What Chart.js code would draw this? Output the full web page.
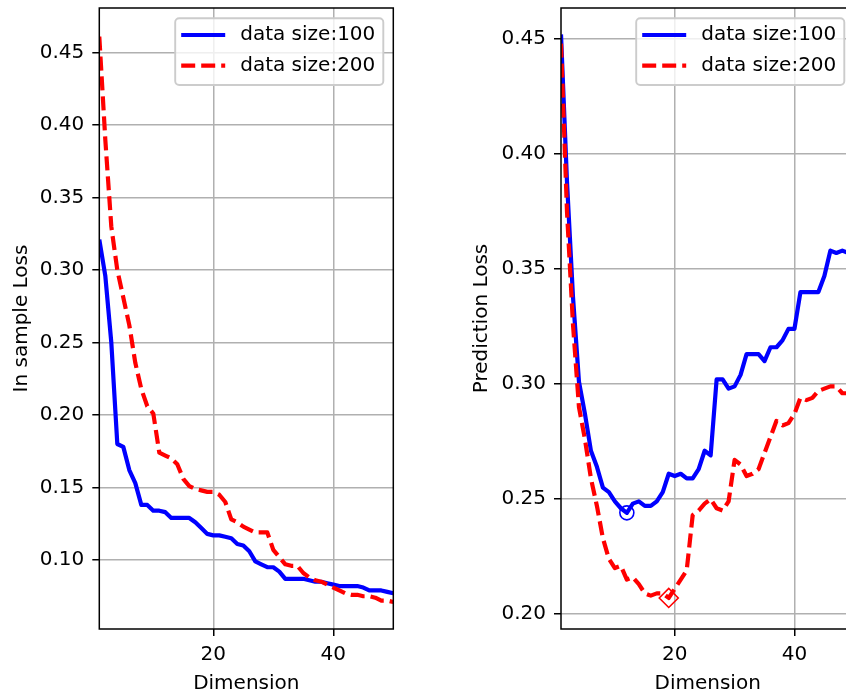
<!DOCTYPE html>
<html>
<head>
<meta charset="utf-8">
<script src="https://cdn.jsdelivr.net/npm/chart.js@4.4.1/dist/chart.umd.min.js"></script>
<style>
  html, body { margin: 0; padding: 0; background: #fff; overflow: hidden; }
  #wrap { position: relative; width: 846px; height: 696px; overflow: hidden; }
  canvas { position: absolute; top: 0; }
  #inSample { left: 0; }
  #prediction { left: 450px; }
</style>
</head>
<body>
<div id="wrap">
  <canvas id="inSample" width="410" height="696"></canvas>
  <canvas id="prediction" width="410" height="696"></canvas>
</div>
<script>
const dimensions = [1, 2, 3, 4, 5, 6, 7, 8, 9, 10, 11, 12, 13, 14, 15, 16, 17, 18, 19, 20,
  21, 22, 23, 24, 25, 26, 27, 28, 29, 30, 31, 32, 33, 34, 35, 36, 37, 38, 39, 40,
  41, 42, 43, 44, 45, 46, 47, 48, 49, 50];

const inSample100 = [0.321, 0.296, 0.250, 0.180, 0.178, 0.162, 0.153, 0.138, 0.138, 0.134,
  0.134, 0.133, 0.129, 0.129, 0.129, 0.129, 0.126, 0.122, 0.118, 0.117,
  0.117, 0.116, 0.115, 0.111, 0.110, 0.106, 0.099, 0.097, 0.095, 0.095,
  0.092, 0.087, 0.087, 0.087, 0.087, 0.086, 0.085, 0.085, 0.084, 0.083,
  0.082, 0.082, 0.082, 0.082, 0.081, 0.079, 0.079, 0.079, 0.078, 0.077];

const inSample200 = [0.461, 0.390, 0.330, 0.300, 0.281, 0.262, 0.236, 0.218, 0.206, 0.201,
  0.174, 0.172, 0.170, 0.166, 0.156, 0.151, 0.149, 0.148, 0.147, 0.147,
  0.145, 0.140, 0.128, 0.126, 0.123, 0.121, 0.119, 0.119, 0.119, 0.107,
  0.102, 0.097, 0.096, 0.096, 0.091, 0.088, 0.086, 0.085, 0.083, 0.081,
  0.079, 0.077, 0.076, 0.076, 0.075, 0.075, 0.074, 0.072, 0.072, 0.071];

const prediction100 = [0.452, 0.388, 0.338, 0.301, 0.287, 0.271, 0.264, 0.255, 0.253, 0.249,
  0.246, 0.244, 0.248, 0.249, 0.247, 0.247, 0.249, 0.253, 0.261, 0.260,
  0.261, 0.259, 0.259, 0.263, 0.271, 0.269, 0.302, 0.302, 0.298, 0.299,
  0.304, 0.313, 0.313, 0.313, 0.310, 0.316, 0.316, 0.319, 0.324, 0.324,
  0.340, 0.340, 0.340, 0.340, 0.347, 0.358, 0.357, 0.358, 0.357, 0.357];

const prediction200 = [0.448, 0.375, 0.326, 0.290, 0.276, 0.259, 0.247, 0.233, 0.224, 0.220,
  0.221, 0.215, 0.216, 0.213, 0.209, 0.208, 0.209, 0.209, 0.207, 0.211,
  0.215, 0.219, 0.243, 0.245, 0.248, 0.250, 0.246, 0.245, 0.249, 0.267,
  0.265, 0.260, 0.261, 0.263, 0.270, 0.277, 0.284, 0.282, 0.283, 0.287,
  0.294, 0.293, 0.294, 0.297, 0.298, 0.299, 0.299, 0.296, 0.296, 0.296];

// best dimension marked on the prediction plot
const bestDim100 = 12;
const bestDim200 = 19;

const xTicks = [20, 40];
const inSampleTicks = [0.10, 0.15, 0.20, 0.25, 0.30, 0.35, 0.40, 0.45];
const predictionTicks = [0.20, 0.25, 0.30, 0.35, 0.40, 0.45];

const FONT = { family: 'DejaVu Sans', size: 20 };
const BLUE = '#0000ff';
const RED = '#ff0000';
const LINE_W = 4.2;

const toPoints = (values) => dimensions.map((d, i) => ({ x: d, y: values[i] }));

const frameAndLegend = {
  id: 'frameAndLegend',
  afterDatasetsDraw(chart) {
    const { ctx, chartArea: a } = chart;
    ctx.save();
    ctx.strokeStyle = '#000';
    ctx.lineWidth = 1.5;
    ctx.strokeRect(a.left, a.top, a.right - a.left, a.bottom - a.top);
    ctx.restore();
  },
  afterDraw(chart) {
    const { ctx, chartArea: a } = chart;
    const entries = chart.data.datasets.filter((ds) => ds.label);
    ctx.save();
    ctx.font = `${FONT.size}px "${FONT.family}"`;
    const textW = Math.max(...entries.map((e) => ctx.measureText(e.label).width));
    const w = 65 + textW + 8;
    const h = 66.7;
    const x = a.right - 10 - w;
    const y = a.top + 10.3;
    ctx.beginPath();
    ctx.roundRect(x, y, w, h, 4);
    ctx.fillStyle = 'rgba(255,255,255,0.8)';
    ctx.fill();
    ctx.strokeStyle = '#cccccc';
    ctx.lineWidth = 1.9;
    ctx.stroke();
    entries.forEach((e, i) => {
      const cy = y + 16.7 + i * 30.7;
      ctx.beginPath();
      ctx.setLineDash(e.borderDash || []);
      ctx.strokeStyle = e.borderColor;
      ctx.lineWidth = e.borderWidth;
      ctx.moveTo(x + 6, cy);
      ctx.lineTo(x + 50, cy);
      ctx.stroke();
      ctx.setLineDash([]);
      ctx.fillStyle = '#000';
      ctx.textBaseline = 'middle';
      ctx.textAlign = 'left';
      ctx.fillText(e.label, x + 65, cy);
    });
    ctx.restore();
  }
};

function lossChart(canvasId, cfg) {
  const datasets = [
    {
      label: 'data size:100',
      data: toPoints(cfg.series100),
      borderColor: BLUE,
      borderWidth: LINE_W,
      pointRadius: 0,
      order: 2
    },
    {
      label: 'data size:200',
      data: toPoints(cfg.series200),
      borderColor: RED,
      borderWidth: LINE_W,
      borderDash: [14, 6],
      pointRadius: 0,
      order: 1
    },
    ...(cfg.markers || [])
  ];

  return new Chart(document.getElementById(canvasId), {
    type: 'line',
    plugins: [frameAndLegend],
    data: { datasets },
    options: {
      responsive: false,
      animation: false,
      layout: { autoPadding: false, padding: { top: 8, right: cfg.padRight, left: 0, bottom: 0 } },
      elements: { line: { tension: 0, borderJoinStyle: 'round', fill: false } },
      plugins: { legend: { display: false }, tooltip: { enabled: false } },
      scales: {
        x: {
          type: 'linear',
          min: 1,
          max: 50,
          afterBuildTicks: (s) => { s.ticks = xTicks.map((value) => ({ value })); },
          afterFit: (s) => { s.height = 67; s.paddingLeft = 0; s.paddingRight = 0; },
          ticks: { font: FONT, color: '#000', padding: 7, maxRotation: 0 },
          grid: { color: '#b0b0b0', lineWidth: 1.5, tickColor: '#000', tickLength: 7, tickWidth: 1.5 },
          border: { display: false },
          title: { display: true, text: 'Dimension', font: FONT, color: '#000', padding: { top: 0, bottom: 0 } }
        },
        y: {
          min: cfg.yMin,
          max: cfg.yMax,
          afterBuildTicks: (s) => { s.ticks = cfg.yTicks.map((value) => ({ value })); },
          afterFit: (s) => { s.width = cfg.yWidth; s.paddingTop = 0; s.paddingBottom = 0; },
          ticks: { font: FONT, color: '#000', padding: 8, callback: (v) => v.toFixed(2) },
          grid: { color: '#b0b0b0', lineWidth: 1.5, tickColor: '#000', tickLength: 7, tickWidth: 1.5 },
          border: { display: false },
          title: { display: true, text: cfg.yTitle, font: FONT, color: '#000', padding: { top: cfg.titlePad, bottom: 0 } }
        }
      }
    }
  });
}

lossChart('inSample', {
  series100: inSample100,
  series200: inSample200,
  yMin: 0.0524,
  yMax: 0.4807,
  yTicks: inSampleTicks,
  yTitle: 'In sample Loss',
  yWidth: 99.3,
  padRight: 16.7,
  titlePad: 10
});

lossChart('prediction', {
  series100: prediction100,
  series200: prediction200,
  yMin: 0.1935,
  yMax: 0.4635,
  yTicks: predictionTicks,
  yTitle: 'Prediction Loss',
  yWidth: 111,
  padRight: 5.7,
  titlePad: 19.6,
  markers: [
    {
      data: [{ x: bestDim100, y: prediction100[dimensions.indexOf(bestDim100)] }],
      showLine: false,
      pointStyle: 'circle',
      pointRadius: 7,
      pointBorderWidth: 1.6,
      pointBorderColor: BLUE,
      pointBackgroundColor: 'rgba(0,0,0,0)',
      order: 0
    },
    {
      data: [{ x: bestDim200, y: prediction200[dimensions.indexOf(bestDim200)] }],
      showLine: false,
      pointStyle: 'rectRot',
      pointRadius: 9.5,
      pointBorderWidth: 1.6,
      pointBorderColor: RED,
      pointBackgroundColor: 'rgba(0,0,0,0)',
      order: 0
    }
  ]
});
</script>
</body>
</html>
